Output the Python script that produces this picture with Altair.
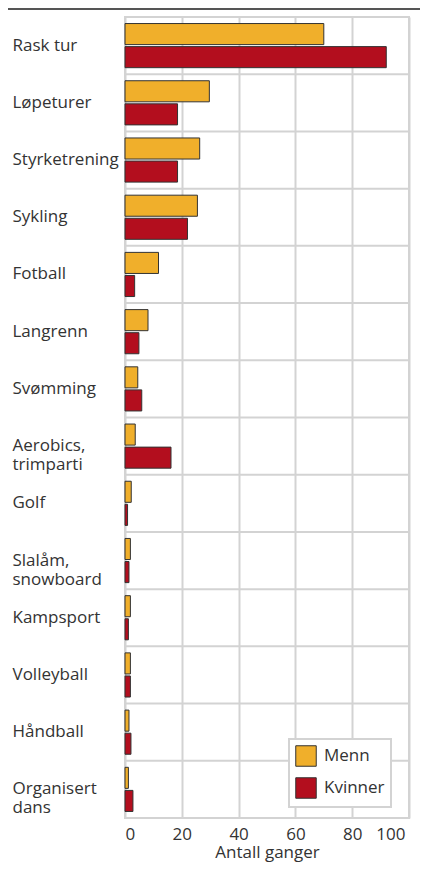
import altair as alt
import pandas as pd

categories = ["Rask tur", "Løpeturer", "Styrketrening", "Sykling", "Fotball", "Langrenn",
              "Svømming", "Aerobics,|trimparti", "Golf", "Slalåm,|snowboard", "Kampsport",
              "Volleyball", "Håndball", "Organisert|dans"]
menn = [70, 29.7, 26.3, 25.5, 11.8, 8.1, 4.5, 3.6, 2.2, 1.9, 1.9, 1.9, 1.4, 1.2]
kvinner = [92, 18.5, 18.5, 22.0, 3.4, 4.9, 5.9, 16.2, 0.9, 1.4, 1.2, 1.9, 2.1, 2.8]
groups = ["Menn", "Kvinner"]
colors = ["#F0AF2B", "#B30E1E"]
x_ticks = [0, 20, 40, 60, 80, 100]

rows = []
for c, m, k in zip(categories, menn, kvinner):
    rows.append({"aktivitet": c, "kjonn": "Menn", "verdi": m})
    rows.append({"aktivitet": c, "kjonn": "Kvinner", "verdi": k})
df = pd.DataFrame(rows)
cat_df = pd.DataFrame({"aktivitet": categories})

FONT = "Open Sans"
GRID = "#d3d3d3"
TXT = "#333333"
FS = 17

x_enc = alt.X("verdi:Q", scale=alt.Scale(domain=[0, 100], nice=False),
              axis=alt.Axis(values=x_ticks, title="Antall ganger",
                            grid=True, gridColor=GRID, gridWidth=2, domain=False, ticks=False,
                            labelPadding=8, labelFontSize=FS, labelColor=TXT, labelFont=FONT,
                            labelOffset=alt.condition("datum.value == 100", alt.value(-4), alt.value(0)),
                            titleFontSize=FS, titleFont=FONT, titleFontWeight="normal",
                            titleColor=TXT, titlePadding=2))
y_enc = alt.Y("aktivitet:N", sort=categories,
              scale=alt.Scale(paddingInner=0, paddingOuter=0),
              axis=alt.Axis(title=None, grid=False,
                            domain=False, ticks=False, labelAlign="left", labelPadding=113,
                            labelFontSize=FS, labelColor=TXT, labelFont=FONT, labelLineHeight=19,
                            labelExpr="split(datum.label, '|')", labelLimit=200))

hgrid = alt.Chart(cat_df).mark_rule(color=GRID, strokeWidth=2).encode(
    y=alt.Y("aktivitet:N", sort=categories, bandPosition=0),
    x=alt.datum(0), x2=alt.datum(100),
)

bars = alt.Chart(df).mark_bar(stroke="#333333", strokeWidth=1).encode(
    x=x_enc,
    y=y_enc,
    yOffset=alt.YOffset("kjonn:N", sort=groups,
                        scale=alt.Scale(paddingInner=0.087, paddingOuter=0.283)),
    color=alt.Color("kjonn:N", sort=groups,
                    scale=alt.Scale(domain=groups, range=colors),
                    legend=alt.Legend(title=None, orient="none", legendX=164, legendY=722,
                                      direction="vertical", symbolType="square", symbolSize=420,
                                      symbolStrokeColor="#333333", symbolStrokeWidth=1,
                                      symbolOpacity=1, labelFontSize=FS, labelFont=FONT,
                                      labelColor=TXT, labelOffset=7, rowPadding=6, padding=6,
                                      strokeColor=GRID, fillColor="white")),
)

topline = alt.Chart(alt.Data(values=[{}])).mark_rule(color="#555555", strokeWidth=2).encode(
    x=alt.value(-117), x2=alt.value(295), y=alt.value(-8)
)

chart = alt.layer(hgrid, bars, topline).properties(
    width=284, height=801,
    autosize=alt.AutoSizeParams(type="none"),
    padding={"left": 117, "top": 9, "right": 11, "bottom": 45},
).configure_view(stroke=GRID, strokeWidth=2).configure_legend(strokeWidth=2)

chart.save("out.html", embed_options={"renderer": "svg", "actions": False})
